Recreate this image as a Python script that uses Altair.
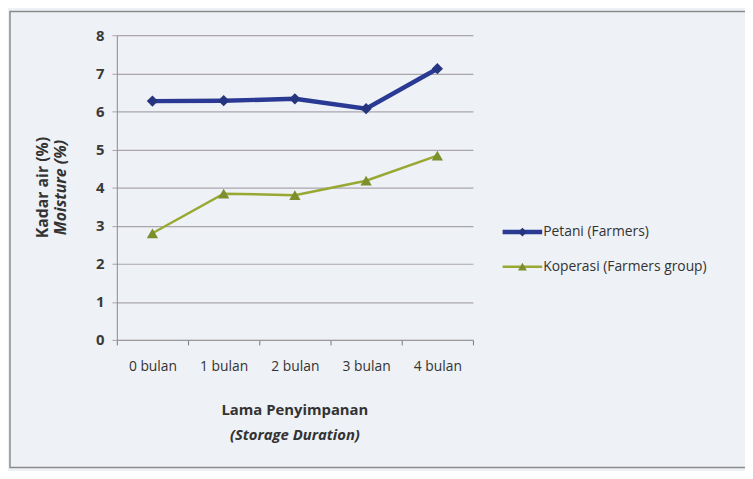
import altair as alt
import pandas as pd

months = ["0 bulan", "1 bulan", "2 bulan", "3 bulan", "4 bulan"]
series_names = ["Petani (Farmers)", "Koperasi (Farmers group)"]
petani = [6.27, 6.28, 6.33, 6.07, 7.12]
koperasi = [2.80, 3.84, 3.80, 4.18, 4.84]
y_ticks = [0, 1, 2, 3, 4, 5, 6, 7, 8]

colors = ["#2a3a94", "#98a832"]
point_colors = ["#26357f", "#7d8f2c"]
shapes = ["diamond", "triangle-up"]
widths = [4.5, 2.5]

W, H = 360, 308
FONT = "Open Sans"

rows = []
for m, p, k in zip(months, petani, koperasi):
    rows.append({"month": m, "series": series_names[0], "value": p})
    rows.append({"month": m, "series": series_names[1], "value": k})
df = pd.DataFrame(rows)

xenc = alt.X("month:N", sort=months, scale=alt.Scale(paddingInner=0, paddingOuter=0),
             axis=alt.Axis(title=None, labelAngle=0, labelFont=FONT, labelFontSize=14,
                           labelColor="#333333", labelPadding=15, tickBand="extent",
                           tickSize=5, tickColor="#777777", domainColor="#999999",
                           grid=False))
yenc = alt.Y("value:Q", scale=alt.Scale(domain=[0, 8], nice=False),
             axis=alt.Axis(title=None, values=y_ticks, labelFont=FONT, labelFontSize=15,
                           labelFontWeight="bold", labelColor="#3a3a3a", labelPadding=8,
                           tickSize=5, tickColor="#a9a4aa", domainColor="#888888",
                           grid=True, gridColor="#aaa5ad", gridWidth=1.2))

base = alt.Chart(df)
layers = []
for i, s in enumerate(series_names):
    sub = base.transform_filter(alt.datum.series == s)
    layers.append(sub.mark_line(color=colors[i], strokeWidth=widths[i]).encode(x=xenc, y=yenc))
    layers.append(sub.mark_point(shape=shapes[i], filled=True, size=130, color=point_colors[i],
                                 opacity=1).encode(x=xenc, y=yenc))

# axis titles
one = alt.Chart(pd.DataFrame({"a": [0]}))
layers.append(one.mark_text(text="Kadar air (%)", angle=270, font=FONT, fontSize=16,
                            fontWeight="bold", color="#333333")
              .encode(x=alt.value(-75), y=alt.value(H / 2)))
layers.append(one.mark_text(text="Moisture (%)", angle=270, font=FONT, fontSize=16,
                            fontWeight="bold", fontStyle="italic", color="#333333")
              .encode(x=alt.value(-56), y=alt.value(H / 2)))
layers.append(one.mark_text(text="Lama Penyimpanan", font=FONT, fontSize=15,
                            fontWeight="bold", color="#333333")
              .encode(x=alt.value(W / 2), y=alt.value(H + 71)))
layers.append(one.mark_text(text="(Storage Duration)", font=FONT, fontSize=15,
                            fontWeight="bold", fontStyle="italic", color="#333333")
              .encode(x=alt.value(W / 2), y=alt.value(H + 96)))

# manual legend
for i, s in enumerate(series_names):
    ly = 199 + 35 * i
    layers.append(one.mark_rule(color=colors[i], strokeWidth=widths[i])
                  .encode(x=alt.value(390), x2=alt.value(430), y=alt.value(ly)))
    layers.append(one.mark_point(shape=shapes[i], filled=True, size=80, color=point_colors[i],
                                 opacity=1).encode(x=alt.value(410), y=alt.value(ly)))
    layers.append(one.mark_text(text=s, align="left", font=FONT, fontSize=14,
                                color="#333333").encode(x=alt.value(431), y=alt.value(ly)))

# outer frame
layers.append(one.mark_rect(filled=False, stroke="#8a8a8a", strokeWidth=1.5)
              .encode(x=alt.value(-108), x2=alt.value(700), y=alt.value(-24), y2=alt.value(437)))

chart = alt.layer(*layers).properties(
    width=W, height=H,
    padding={"left": 110, "top": 25, "right": 275, "bottom": 130},
    autosize=alt.AutoSizeParams(type="none"),
    background="#eef1f5",
).configure_view(stroke=None)

chart.save("out.html", embed_options={"renderer": "svg", "actions": False})
